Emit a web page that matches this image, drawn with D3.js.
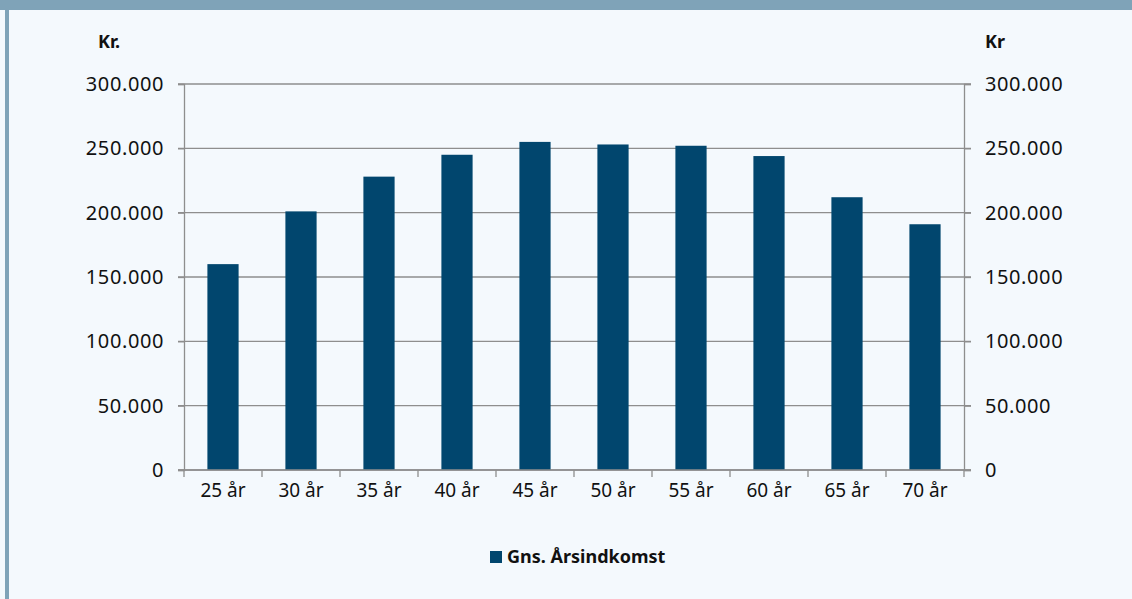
<!DOCTYPE html>
<html>
<head>
<meta charset="utf-8">
<script src="https://cdn.jsdelivr.net/npm/d3@7"></script>
<style>
  html, body { margin: 0; padding: 0; background: #f4f9fd; }
  svg { display: block; }
  text { font-family: "Noto Sans", sans-serif; fill: #111; }
</style>
</head>
<body>
<svg id="chart" width="1132" height="599"></svg>
<script>
// gennemsnitlig årsindkomst efter alder
const ages = ['25 år', '30 år', '35 år', '40 år', '45 år', '50 år', '55 år', '60 år', '65 år', '70 år'];
const income = [160000, 201000, 228000, 245000, 255000, 253000, 252000, 244000, 212000, 191000];
const yTicks = [0, 50000, 100000, 150000, 200000, 250000, 300000];
const seriesName = 'Gns. Årsindkomst';

const W = 1132, H = 599;
const plotLeft = 184, plotRight = 964, plotTop = 84, plotBottom = 470;
const barColor = '#01466e';
const gridColor = '#8e8e8e';

const svg = d3.select('#chart');

// ramme
svg.append('rect').attr('x', 0).attr('y', 0).attr('width', W).attr('height', H).attr('fill', '#f4f9fd');
svg.append('rect').attr('x', 0).attr('y', 0).attr('width', W).attr('height', 10).attr('fill', '#7fa3b8');
svg.append('rect').attr('x', 5).attr('y', 0).attr('width', 4).attr('height', H).attr('fill', '#7fa3b8');

const locale = d3.formatLocale({ decimal: ',', thousands: '.', grouping: [3], currency: ['', ''] });
const fmt = locale.format(',d');

const x = d3.scaleBand()
    .domain(ages)
    .range([plotLeft, plotRight])
    .padding(0);

const y = d3.scaleLinear()
    .domain([0, 300000])
    .range([plotBottom, plotTop]);

// gitterlinjer
svg.append('g')
    .selectAll('line')
    .data(yTicks)
    .enter().append('line')
    .attr('x1', plotLeft - 6)
    .attr('x2', plotRight + 7)
    .attr('y1', d => y(d))
    .attr('y2', d => y(d))
    .attr('stroke', gridColor)
    .attr('stroke-width', 1.3);

// søjler
const bw = x.bandwidth();
svg.append('g')
    .selectAll('rect')
    .data(income)
    .enter().append('rect')
    .attr('x', (d, i) => x(ages[i]) + bw * 0.3)
    .attr('width', bw * 0.4)
    .attr('y', d => y(d))
    .attr('height', d => y(0) - y(d))
    .attr('fill', barColor);

// akser
const axisL = svg.append('g')
    .attr('transform', `translate(${plotLeft},0)`)
    .call(d3.axisLeft(y).tickValues(yTicks).tickFormat(fmt).tickSize(6).tickPadding(14));

const axisR = svg.append('g')
    .attr('transform', `translate(${plotRight},0)`)
    .call(d3.axisRight(y).tickValues(yTicks).tickFormat(fmt).tickSize(7).tickPadding(14));

[axisL, axisR].forEach(a => {
    a.select('.domain').attr('stroke', gridColor).attr('stroke-width', 1.3);
    a.selectAll('.tick line').attr('stroke', gridColor).attr('stroke-width', 1.3);
    a.selectAll('.tick text')
        .style('font-family', '"Noto Sans", sans-serif')
        .style('font-size', '20px')
        .style('letter-spacing', '0.6px')
        .attr('fill', '#111');
});

// x-akse: streger ved kategorigrænser
const xAxis = svg.append('g').attr('transform', `translate(0,${plotBottom})`);
xAxis.append('line')
    .attr('x1', plotLeft - 6).attr('x2', plotRight + 7)
    .attr('stroke', gridColor).attr('stroke-width', 1.3);
xAxis.selectAll('line.tk')
    .data(ages.concat(['end']))
    .enter().append('line')
    .attr('class', 'tk')
    .attr('x1', (d, i) => plotLeft + i * bw)
    .attr('x2', (d, i) => plotLeft + i * bw)
    .attr('y1', 0).attr('y2', 7)
    .attr('stroke', gridColor).attr('stroke-width', 1.3);
xAxis.selectAll('text')
    .data(ages)
    .enter().append('text')
    .attr('x', d => x(d) + bw / 2)
    .attr('y', 27)
    .attr('text-anchor', 'middle')
    .style('font-size', '19px')
    .text(d => d);

// enhedsetiketter
svg.append('text')
    .attr('x', 98).attr('y', 48)
    .style('font-size', '18px').style('font-weight', 'bold')
    .text('Kr.');
svg.append('text')
    .attr('x', 985).attr('y', 48)
    .style('font-size', '18px').style('font-weight', 'bold')
    .text('Kr');

// forklaring
const legend = svg.append('g').attr('transform', 'translate(490,551)');
legend.append('rect')
    .attr('width', 12).attr('height', 12)
    .attr('fill', barColor);
legend.append('text')
    .attr('x', 17).attr('y', 12)
    .style('font-size', '18px').style('font-weight', 'bold')
    .text(seriesName);
</script>
</body>
</html>
